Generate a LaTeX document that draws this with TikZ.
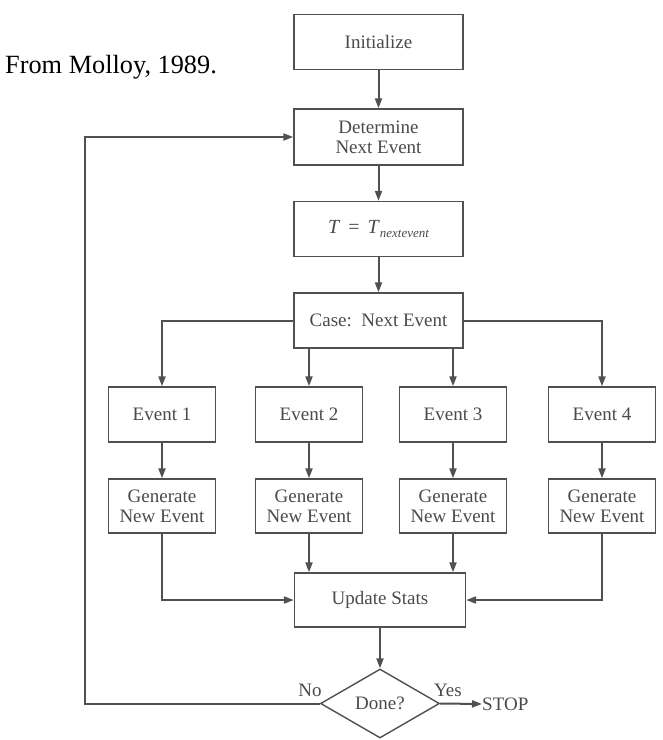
\documentclass[tikz,border=0pt]{standalone}
\usepackage{fontspec}
\setmainfont{Liberation Serif}
\usetikzlibrary{arrows.meta,shapes.geometric}
\definecolor{linec}{HTML}{505050}
\definecolor{textc}{HTML}{4A4A4A}
\newcommand\boxfont{\fontsize{19}{20}\selectfont}
\tikzset{
  box/.style={draw=linec, line width=1.4pt, minimum width=169pt, minimum height=55pt, inner sep=0pt, align=center, text=textc, font=\boxfont},
  sbox/.style={box, minimum width=107pt},
  conn/.style={draw=linec, line width=2pt, -{Triangle[length=10pt,width=7pt]}},
  lbl/.style={text=textc, font=\boxfont, inner sep=0pt},
}
\begin{document}
\begin{tikzpicture}[x=1pt,y=-1pt]
\useasboundingbox (0,0) rectangle (663,740);
\node[anchor=base west, font=\fontsize{26.3}{28}\selectfont, inner sep=0pt] (src) at (5,73) {From Molloy, 1989.};
\node[box] (init) at (378.5,42) {Initialize};
\node[box, minimum height=56pt] (det) at (378.5,137) {Determine\\Next Event};
\node[box] (tt) at (378.5,229) {\fontsize{20}{20}\selectfont\textit{T}\hspace{0.4em}=\hspace{0.4em}\textit{T}\raisebox{-0.4ex}{\fontsize{13}{13}\selectfont\itshape nextevent}};
\node[box] (case) at (378.5,320.5) {Case:\ \ Next Event};
\node[sbox] (e1) at (162,414.5) {Event 1};
\node[sbox] (e2) at (309,414.5) {Event 2};
\node[sbox] (e3) at (453,414.5) {Event 3};
\node[sbox] (e4) at (602,414.5) {Event 4};
\node[sbox, minimum height=54pt] (g1) at (162,506) {Generate\\New Event};
\node[sbox, minimum height=54pt] (g2) at (309,506) {Generate\\New Event};
\node[sbox, minimum height=54pt] (g3) at (453,506) {Generate\\New Event};
\node[sbox, minimum height=54pt] (g4) at (602,506) {Generate\\New Event};
\node[box, minimum width=171pt, minimum height=54pt] (upd) at (380,600) {Update Stats};
\node[diamond, draw=linec, line width=1.4pt, minimum width=119pt, minimum height=69pt, inner sep=0pt, text=textc, font=\boxfont] (done) at (380,703.5) {Done?};
\node[lbl, anchor=west] (stop) at (482,704) {STOP};
\node[lbl] (no) at (310,690) {No};
\node[lbl] (yes) at (448,690) {Yes};
\coordinate (loopc) at (85,703.5);
\draw[conn] (init) -- (det);
\draw[conn] (det) -- (tt);
\draw[conn] (tt) -- (case);
\draw[conn] (case.west) -| (e1.north);
\draw[conn] (case.east) -| (e4.north);
\draw[conn] (case.south -| e2.north) -- (e2.north);
\draw[conn] (case.south -| e3.north) -- (e3.north);
\draw[conn] (e1) -- (g1);
\draw[conn] (e2) -- (g2);
\draw[conn] (e3) -- (g3);
\draw[conn] (e4) -- (g4);
\draw[conn] (g1.south) |- (upd.west);
\draw[conn] (g4.south) |- (upd.east);
\draw[conn] (g2.south) -- (g2.south |- upd.north);
\draw[conn] (g3.south) -- (g3.south |- upd.north);
\draw[conn] (upd) -- (done);
\draw[conn] (done.east) -- (stop.west);
\draw[conn] (done.west) -- (loopc) |- (det.west);
\end{tikzpicture}
\end{document}
